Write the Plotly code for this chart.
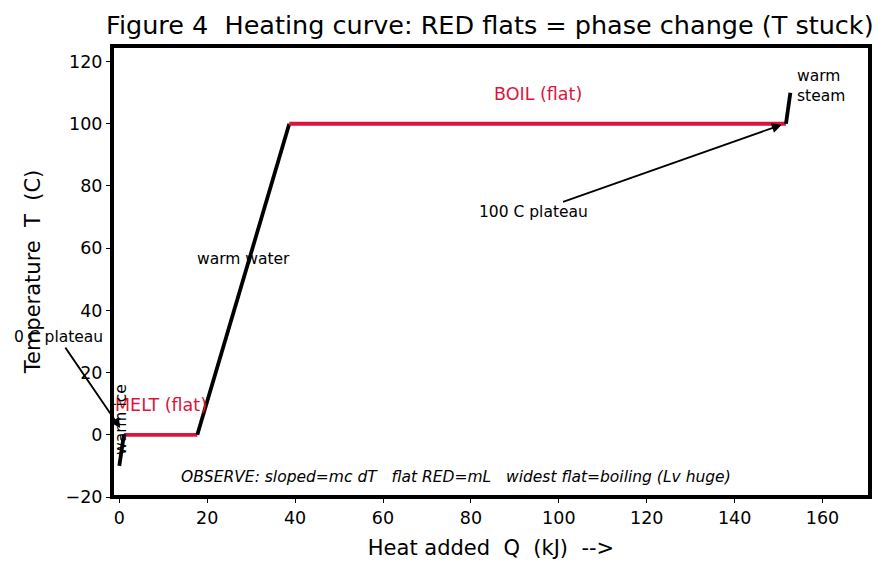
import plotly.graph_objects as go

# Heating curve data (Q in kJ, T in C)
q_ice = [0.0, 1.05]
t_ice = [-10, 0]
q_melt = [1.05, 17.75]
t_melt = [0, 0]
q_water = [17.75, 38.68]
t_water = [0, 100]
q_boil = [38.68, 151.68]
t_boil = [100, 100]
q_steam = [151.68, 152.68]
t_steam = [100, 110]

x_ticks = [0, 20, 40, 60, 80, 100, 120, 140, 160]
y_ticks = [-20, 0, 20, 40, 60, 80, 100, 120]

BLACK = "black"
RED = "#DC143C"
FONT = "DejaVu Sans"
ANN = 15.5

fig = go.Figure()
for qs, ts, col in [(q_ice, t_ice, BLACK), (q_melt, t_melt, RED), (q_water, t_water, BLACK),
                    (q_boil, t_boil, RED), (q_steam, t_steam, BLACK)]:
    fig.add_trace(go.Scatter(x=qs, y=ts, mode="lines", line=dict(color=col, width=3.8),
                             showlegend=False, hoverinfo="skip"))

ann = []
ann.append(dict(x=9.5, y=9.6, text="MELT (flat)", font=dict(color=RED, size=17.5)))
ann.append(dict(x=95.3, y=109.6, text="BOIL (flat)", font=dict(color=RED, size=17.5)))
ann.append(dict(x=28.2, y=56.4, text="warm water", font=dict(color=BLACK, size=ANN)))
ann.append(dict(x=0.4, y=4.8, text="warm ice", textangle=-90, font=dict(color=BLACK, size=ANN)))
ann.append(dict(x=153.7, y=112.2, text="warm<br>steam", xanchor="left", align="left",
                font=dict(color=BLACK, size=ANN)))
ann.append(dict(x=76.5, y=-13.5, text="<i>OBSERVE: sloped=mc dT   flat RED=mL   widest flat=boiling (Lv huge)</i>",
                font=dict(color=BLACK, size=ANN)))
for a in ann:
    a.update(xref="x", yref="y", showarrow=False)

ann.append(dict(x=150.7, y=99.7, ax=94.2, ay=71.5, axref="x", ayref="y", xref="x", yref="y",
                text="100 C plateau", showarrow=True, arrowhead=2, arrowsize=1.1, arrowwidth=1.8,
                arrowcolor=BLACK, font=dict(color=BLACK, size=ANN)))
ann.append(dict(x=0.2, y=2.2, ax=-13.9, ay=31.4, axref="x", ayref="y", xref="x", yref="y",
                text="0 C plateau", showarrow=True, arrowhead=2, arrowsize=1.1, arrowwidth=1.8,
                arrowcolor=BLACK, font=dict(color=BLACK, size=ANN)))

fig.update_layout(
    width=889, height=573,
    margin=dict(l=112, r=19, t=46, b=76),
    paper_bgcolor="white", plot_bgcolor="white",
    font=dict(family=FONT, color="black"),
    title=dict(text="Figure 4  Heating curve: RED flats = phase change (T stuck)",
               x=0.551, xanchor="center", y=0.956, yanchor="middle",
               font=dict(size=25.5, color="black")),
    annotations=ann,
    shapes=[dict(type="rect", xref="paper", yref="paper", x0=0, x1=1, y0=0, y1=1,
                 line=dict(color="black", width=4), layer="above")],
)
fig.update_xaxes(range=[-1.66, 170.8], tickvals=x_ticks, ticktext=[str(v) for v in x_ticks],
                 showgrid=False, zeroline=False, showline=False,
                 ticks="outside", ticklen=5, tickwidth=1.2, tickcolor="black",
                 tickfont=dict(size=17.5),
                 title=dict(text="Heat added  Q  (kJ)  -->", font=dict(size=21), standoff=13))
fig.update_yaxes(range=[-20, 125], tickvals=y_ticks,
                 ticktext=[("\u2212" + str(-v)) if v < 0 else str(v) for v in y_ticks],
                 showgrid=False, zeroline=False, showline=False,
                 ticks="outside", ticklen=5, tickwidth=1.2, tickcolor="black",
                 tickfont=dict(size=17.5),
                 title=dict(text="Temperature  T  (C)", font=dict(size=21), standoff=19))

fig.write_html("out.html")
